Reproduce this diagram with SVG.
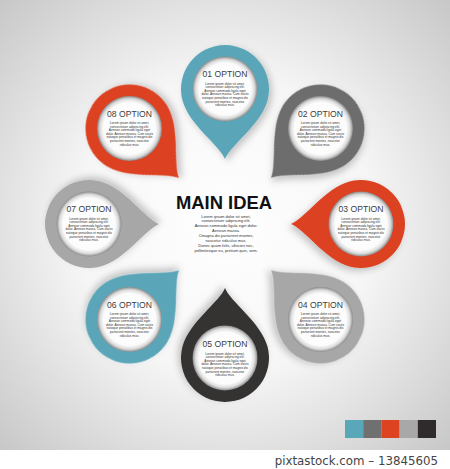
<svg xmlns="http://www.w3.org/2000/svg" xmlns:xlink="http://www.w3.org/1999/xlink" width="450" height="469" viewBox="0 0 450 469">
<style>
.title{font-family:"Liberation Sans",Arial,sans-serif;font-size:8.6px;fill:#3c3c3c;text-anchor:middle}
.body{font-family:"Liberation Sans",Arial,sans-serif;font-size:3.2px;fill:#333;text-anchor:middle}
.main{font-family:"Liberation Sans",Arial,sans-serif;font-size:18.4px;font-weight:bold;fill:#111;text-anchor:middle}
.cbody{font-family:"Liberation Sans",Arial,sans-serif;font-size:4px;fill:#333;text-anchor:middle}
.foot{font-family:"DejaVu Sans",Verdana,sans-serif;font-size:11.8px;fill:#444;text-anchor:end}
</style>
<defs>
<radialGradient id="bg" cx="225" cy="225" r="330" gradientUnits="userSpaceOnUse">
<stop offset="0" stop-color="#ffffff"/>
<stop offset="0.45" stop-color="#f6f6f6"/>
<stop offset="1" stop-color="#c4c4c4"/>
</radialGradient>
<radialGradient id="inner">
<stop offset="0" stop-color="#ffffff"/>
<stop offset="0.8" stop-color="#fcfcfc"/>
<stop offset="0.91" stop-color="#dcdcdc"/>
<stop offset="1" stop-color="#8a8a8a"/>
</radialGradient>
<filter id="sh" x="-40%" y="-40%" width="180%" height="180%">
<feDropShadow dx="3" dy="3" stdDeviation="3.5" flood-color="#000" flood-opacity="0.22"/>
</filter>
<path id="drop" d="M 42.5 11.4 A 44 44 0 1 0 -42.5 11.4 C -35.8 36 -5 56.5 0 70 C 5 56.5 35.8 36 42.5 11.4 Z"/>
</defs>
<rect x="0" y="0" width="450" height="450" fill="url(#bg)"/>
<rect x="0" y="450" width="450" height="19" fill="#ffffff"/>

<g id="node01">
<use xlink:href="#drop" href="#drop" transform="translate(225,89)" fill="#5aa6b8" filter="url(#sh)"/>
<circle cx="225" cy="89" r="32.5" fill="url(#inner)"/>
<text class="title" x="225" y="77">01 OPTION</text>
<text class="body" x="225" y="84.5"><tspan x="225">Lorem ipsum dolor sit amet,</tspan><tspan x="225" dy="3.6">consectetuer adipiscing elit.</tspan><tspan x="225" dy="3.6">Aenean commodo ligula eget</tspan><tspan x="225" dy="3.6">dolor. Aenean massa. Cum sociis</tspan><tspan x="225" dy="3.6">natoque penatibus et magnis dis</tspan><tspan x="225" dy="3.6">parturient montes, nascetur</tspan><tspan x="225" dy="3.6">ridiculus mus.</tspan></text>
</g>

<g id="node02">
<use xlink:href="#drop" href="#drop" transform="translate(320.5,128.5) rotate(45)" fill="#6d6d6d" filter="url(#sh)"/>
<circle cx="320.5" cy="128.5" r="32.5" fill="url(#inner)"/>
<text class="title" x="320.5" y="116.5">02 OPTION</text>
<text class="body" x="320.5" y="124"><tspan x="320.5">Lorem ipsum dolor sit amet,</tspan><tspan x="320.5" dy="3.6">consectetuer adipiscing elit.</tspan><tspan x="320.5" dy="3.6">Aenean commodo ligula eget</tspan><tspan x="320.5" dy="3.6">dolor. Aenean massa. Cum sociis</tspan><tspan x="320.5" dy="3.6">natoque penatibus et magnis dis</tspan><tspan x="320.5" dy="3.6">parturient montes, nascetur</tspan><tspan x="320.5" dy="3.6">ridiculus mus.</tspan></text>
</g>

<g id="node03">
<use xlink:href="#drop" href="#drop" transform="translate(361,224) rotate(90)" fill="#dc4220" filter="url(#sh)"/>
<circle cx="361" cy="224" r="32.5" fill="url(#inner)"/>
<text class="title" x="361" y="212">03 OPTION</text>
<text class="body" x="361" y="219.5"><tspan x="361">Lorem ipsum dolor sit amet,</tspan><tspan x="361" dy="3.6">consectetuer adipiscing elit.</tspan><tspan x="361" dy="3.6">Aenean commodo ligula eget</tspan><tspan x="361" dy="3.6">dolor. Aenean massa. Cum sociis</tspan><tspan x="361" dy="3.6">natoque penatibus et magnis dis</tspan><tspan x="361" dy="3.6">parturient montes, nascetur</tspan><tspan x="361" dy="3.6">ridiculus mus.</tspan></text>
</g>

<g id="node04">
<use xlink:href="#drop" href="#drop" transform="translate(320.5,319.5) rotate(135)" fill="#a7a7a8" filter="url(#sh)"/>
<circle cx="320.5" cy="319.5" r="32.5" fill="url(#inner)"/>
<text class="title" x="320.5" y="307.5">04 OPTION</text>
<text class="body" x="320.5" y="315"><tspan x="320.5">Lorem ipsum dolor sit amet,</tspan><tspan x="320.5" dy="3.6">consectetuer adipiscing elit.</tspan><tspan x="320.5" dy="3.6">Aenean commodo ligula eget</tspan><tspan x="320.5" dy="3.6">dolor. Aenean massa. Cum sociis</tspan><tspan x="320.5" dy="3.6">natoque penatibus et magnis dis</tspan><tspan x="320.5" dy="3.6">parturient montes, nascetur</tspan><tspan x="320.5" dy="3.6">ridiculus mus.</tspan></text>
</g>

<g id="node05">
<use xlink:href="#drop" href="#drop" transform="translate(225,358) rotate(180)" fill="#343031" filter="url(#sh)"/>
<circle cx="225" cy="358" r="32.5" fill="url(#inner)"/>
<text class="title" x="225" y="347">05 OPTION</text>
<text class="body" x="225" y="354.5"><tspan x="225">Lorem ipsum dolor sit amet,</tspan><tspan x="225" dy="3.6">consectetuer adipiscing elit.</tspan><tspan x="225" dy="3.6">Aenean commodo ligula eget</tspan><tspan x="225" dy="3.6">dolor. Aenean massa. Cum sociis</tspan><tspan x="225" dy="3.6">natoque penatibus et magnis dis</tspan><tspan x="225" dy="3.6">parturient montes, nascetur</tspan><tspan x="225" dy="3.6">ridiculus mus.</tspan></text>
</g>

<g id="node06">
<use xlink:href="#drop" href="#drop" transform="translate(129.5,319.5) rotate(225)" fill="#5aa6b8" filter="url(#sh)"/>
<circle cx="129.5" cy="319.5" r="32.5" fill="url(#inner)"/>
<text class="title" x="129.5" y="307.5">06 OPTION</text>
<text class="body" x="129.5" y="315"><tspan x="129.5">Lorem ipsum dolor sit amet,</tspan><tspan x="129.5" dy="3.6">consectetuer adipiscing elit.</tspan><tspan x="129.5" dy="3.6">Aenean commodo ligula eget</tspan><tspan x="129.5" dy="3.6">dolor. Aenean massa. Cum sociis</tspan><tspan x="129.5" dy="3.6">natoque penatibus et magnis dis</tspan><tspan x="129.5" dy="3.6">parturient montes, nascetur</tspan><tspan x="129.5" dy="3.6">ridiculus mus.</tspan></text>
</g>

<g id="node07">
<use xlink:href="#drop" href="#drop" transform="translate(89,224) rotate(270)" fill="#a7a7a8" filter="url(#sh)"/>
<circle cx="89" cy="224" r="32.5" fill="url(#inner)"/>
<text class="title" x="89" y="212">07 OPTION</text>
<text class="body" x="89" y="219.5"><tspan x="89">Lorem ipsum dolor sit amet,</tspan><tspan x="89" dy="3.6">consectetuer adipiscing elit.</tspan><tspan x="89" dy="3.6">Aenean commodo ligula eget</tspan><tspan x="89" dy="3.6">dolor. Aenean massa. Cum sociis</tspan><tspan x="89" dy="3.6">natoque penatibus et magnis dis</tspan><tspan x="89" dy="3.6">parturient montes, nascetur</tspan><tspan x="89" dy="3.6">ridiculus mus.</tspan></text>
</g>

<g id="node08">
<use xlink:href="#drop" href="#drop" transform="translate(129.5,128.5) rotate(315)" fill="#dc4220" filter="url(#sh)"/>
<circle cx="129.5" cy="128.5" r="32.5" fill="url(#inner)"/>
<text class="title" x="129.5" y="116.5">08 OPTION</text>
<text class="body" x="129.5" y="124"><tspan x="129.5">Lorem ipsum dolor sit amet,</tspan><tspan x="129.5" dy="3.6">consectetuer adipiscing elit.</tspan><tspan x="129.5" dy="3.6">Aenean commodo ligula eget</tspan><tspan x="129.5" dy="3.6">dolor. Aenean massa. Cum sociis</tspan><tspan x="129.5" dy="3.6">natoque penatibus et magnis dis</tspan><tspan x="129.5" dy="3.6">parturient montes, nascetur</tspan><tspan x="129.5" dy="3.6">ridiculus mus.</tspan></text>
</g>

<g id="center">
<text class="main" x="224" y="209">MAIN IDEA</text>
<text class="cbody" x="226" y="217.5"><tspan x="226">Lorem ipsum dolor sit amet,</tspan><tspan x="226" dy="4.9">consectetuer adipiscing elit.</tspan><tspan x="226" dy="4.9">Aenean commodo ligula eget dolor.</tspan><tspan x="226" dy="4.9">Aenean massa.</tspan><tspan x="226" dy="4.9">Cmagna dis parturient montes,</tspan><tspan x="226" dy="4.9">nascetur ridiculus mus.</tspan><tspan x="226" dy="4.9">Donec quam felis, ultricies nec,</tspan><tspan x="226" dy="4.9">pellentesque eu, pretium quis, sem.</tspan></text>
</g>

<g id="palette">
<rect x="345" y="420" width="18.2" height="18" fill="#59a7b8"/>
<rect x="363.2" y="420" width="18.2" height="18" fill="#707070"/>
<rect x="381.4" y="420" width="18.2" height="18" fill="#dd4221"/>
<rect x="399.6" y="420" width="18.2" height="18" fill="#a8a8a8"/>
<rect x="417.8" y="420" width="18.2" height="18" fill="#2f2b2c"/>
</g>

<text class="foot" x="438" y="465">pixtastock.com – 13845605</text>
</svg>
